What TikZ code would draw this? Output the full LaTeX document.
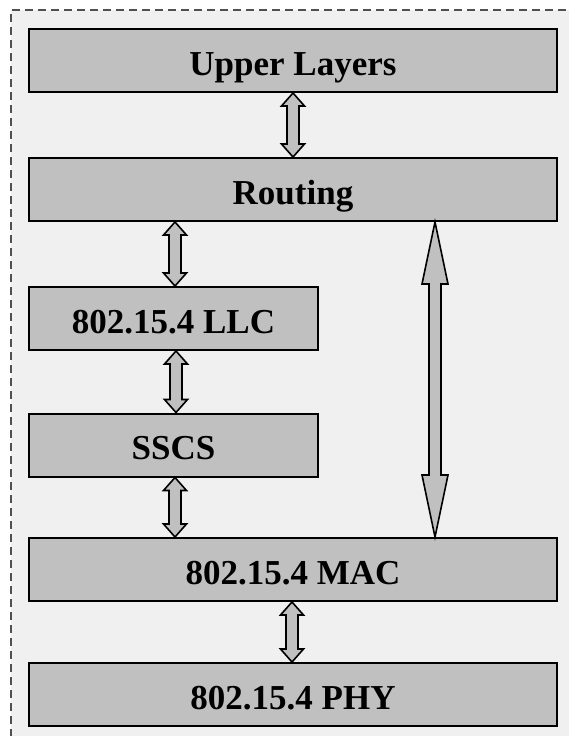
\documentclass[tikz,border=0pt]{standalone}
\usepackage{fontspec}
\setmainfont{Liberation Serif}
\usetikzlibrary{calc}
\definecolor{boxgray}{HTML}{C0C0C0}
\definecolor{panelgray}{HTML}{F0F0F0}
\definecolor{dashgray}{HTML}{505050}
\tikzset{
  layerbox/.style={draw=black, line width=2pt, fill=boxgray, inner sep=0pt,
    minimum height=63pt, align=center, text height=29pt, text depth=0pt,
    font=\fontsize{35}{40}\selectfont\bfseries},
  fatarrow/.style={draw=black, line width=1.6pt, fill=boxgray, line join=miter},
}
% #1 top point, #2 bottom point, #3 shaft half width, #4 head half width, #5 head length
\newcommand\fatarr[5]{%
  \draw[fatarrow] let \p1=#1, \p2=#2 in
    (\x1,\y1) -- (\x1+#4,\y1-#5) -- (\x1+#3,\y1-#5) -- (\x1+#3,\y2+#5)
    -- (\x1+#4,\y2+#5) -- (\x1,\y2) -- (\x1-#4,\y2+#5) -- (\x1-#3,\y2+#5)
    -- (\x1-#3,\y1-#5) -- (\x1-#4,\y1-#5) -- cycle;}
\begin{document}
\begin{tikzpicture}[x=1pt,y=-1pt]
\useasboundingbox (0,0) rectangle (568,736);
\fill[white] (0,0) rectangle (568,736);
\fill[panelgray] (11,10) rectangle (580,750);
\draw[dashgray, line width=2.2pt, dash pattern=on 8pt off 5pt] (11,750) -- (11,10) -- (580,10);

\node[layerbox, minimum width=528pt] (ul)   at (293,60.5)  {Upper Layers};
\node[layerbox, minimum width=528pt] (rt)   at (293,189.5) {Routing};
\node[layerbox, minimum width=289pt] (llc)  at (173.5,318.5) {802.15.4 LLC};
\node[layerbox, minimum width=289pt] (sscs) at (173.5,445) {SSCS};
\node[layerbox, minimum width=528pt] (mac)  at (293,569.5) {802.15.4 MAC};
\node[layerbox, minimum width=528pt] (phy)  at (293,694.5) {802.15.4 PHY};

\fatarr{(ul.south -| 293,0)}{(rt.north -| 293,0)}{6pt}{11.5pt}{13pt}
\fatarr{(rt.south -| 175,0)}{(llc.north -| 175,0)}{6pt}{11.5pt}{13pt}
\fatarr{(llc.south -| 176,0)}{(sscs.north -| 176,0)}{6pt}{11.5pt}{13pt}
\fatarr{(sscs.south -| 175,0)}{(mac.north -| 175,0)}{6pt}{11.5pt}{13pt}
\fatarr{(mac.south -| 292,0)}{(phy.north -| 292,0)}{6pt}{11.5pt}{13pt}
\fatarr{(rt.south -| 435,0)}{(mac.north -| 435,0)}{6pt}{13pt}{62pt}
\end{tikzpicture}
\end{document}
